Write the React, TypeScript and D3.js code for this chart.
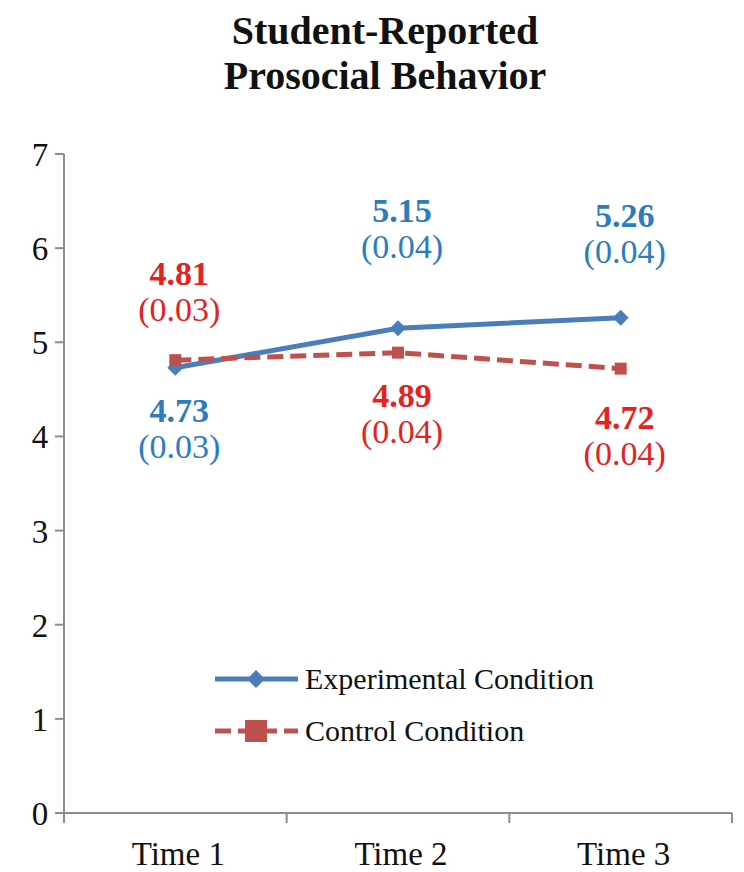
import React from 'react';
import * as d3 from 'd3';

const categories = ['Time 1', 'Time 2', 'Time 3'];
const experimental = [4.73, 5.15, 5.26];
const experimentalSE = ['0.03', '0.04', '0.04'];
const control = [4.81, 4.89, 4.72];
const controlSE = ['0.03', '0.04', '0.04'];
const yTicks = [0, 1, 2, 3, 4, 5, 6, 7];

// label offsets (px, centre of value line relative to point)
const expLabelDy = [42, -118, -103];
const ctlLabelDy = [-87, 42, 48];

const W = 744;
const H = 872;
const left = 64;
const right = 732;
const top = 154;
const bottom = 813;

const BLUE = '#4a7ebb';
const RED = '#c0504d';
const BLUE_TXT = '#2b7cc0';
const RED_TXT = '#e3231f';
const FONT = '"Liberation Serif", "Times New Roman", serif';

export default function App() {
  const x = d3.scaleBand().domain(categories).range([left, right]);
  const y = d3.scaleLinear().domain([0, 7]).range([bottom, top]);
  const cx = (c: string) => (x(c) as number) + x.bandwidth() / 2;

  const line = d3.line<number>()
    .x((_, i) => cx(categories[i]))
    .y((d) => y(d));

  const diamond = (px: number, py: number, r: number) =>
    `M${px},${py - r}L${px + r},${py}L${px},${py + r}L${px - r},${py}Z`;

  const label = (val: number, se: string, i: number, dy: number, color: string, key: string) => {
    const px = cx(categories[i]) + 4;
    const py = y(val) + dy;
    return (
      <g key={key} fill={color} textAnchor="middle" fontFamily={FONT} fontSize={34}>
        <text x={px} y={py + 12} fontWeight="bold">{val.toFixed(2)}</text>
        <text x={px} y={py + 48}>({se})</text>
      </g>
    );
  };

  return (
    <svg width={W} height={H} style={{ display: 'block', position: 'fixed', left: 0, top: 0 }}>
      <rect width={W} height={H} fill="#fff" />
      <g fontFamily={FONT} fontWeight="bold" fontSize={40} textAnchor="middle" fill="#111">
        <text x={385} y={44}>Student-Reported</text>
        <text x={385} y={89}>Prosocial Behavior</text>
      </g>

      {/* axes */}
      <g stroke="#8c8c8c" strokeWidth={2}>
        <line x1={left} x2={left} y1={top} y2={bottom} />
        <line x1={left} x2={right} y1={bottom} y2={bottom} />
        {yTicks.map((t) => (
          <line key={t} x1={left - 9} x2={left} y1={y(t)} y2={y(t)} />
        ))}
        {[...categories.map((c) => x(c) as number), right].map((v, i) => (
          <line key={i} x1={v} x2={v} y1={bottom} y2={bottom + 10} />
        ))}
      </g>
      <g fontFamily={FONT} fontSize={33} fill="#111" textAnchor="middle">
        {yTicks.map((t) => (
          <text key={t} x={40} y={y(t) + 12}>{t}</text>
        ))}
      </g>
      <g fontFamily={FONT} fontSize={33} fill="#111" textAnchor="middle">
        {categories.map((c) => (
          <text key={c} x={cx(c) + 3} y={865}>{c}</text>
        ))}
      </g>

      {/* series */}
      <path d={line(experimental) || ''} fill="none" stroke={BLUE} strokeWidth={5} />
      {experimental.map((v, i) => (
        <path key={i} d={diamond(cx(categories[i]), y(v), 8)} fill={BLUE} />
      ))}
      <path d={line(control) || ''} fill="none" stroke={RED} strokeWidth={5} strokeDasharray="16 7" />
      {control.map((v, i) => (
        <rect key={i} x={cx(categories[i]) - 6} y={y(v) - 6} width={12} height={12} fill={RED} />
      ))}

      {experimental.map((v, i) => label(v, experimentalSE[i], i, expLabelDy[i], BLUE_TXT, 'e' + i))}
      {control.map((v, i) => label(v, controlSE[i], i, ctlLabelDy[i], RED_TXT, 'c' + i))}

      {/* legend */}
      <g>
        <line x1={215} x2={298} y1={679} y2={679} stroke={BLUE} strokeWidth={5} />
        <path d={diamond(256, 679, 9)} fill={BLUE} />
        <text x={305} y={689} fontFamily={FONT} fontSize={30} fill="#111">Experimental Condition</text>
        <line x1={215} x2={298} y1={731} y2={731} stroke={RED} strokeWidth={5} strokeDasharray="16 7" />
        <rect x={245} y={720} width={22} height={22} fill={RED} />
        <text x={305} y={741} fontFamily={FONT} fontSize={30} fill="#111">Control Condition</text>
      </g>
    </svg>
  );
}
